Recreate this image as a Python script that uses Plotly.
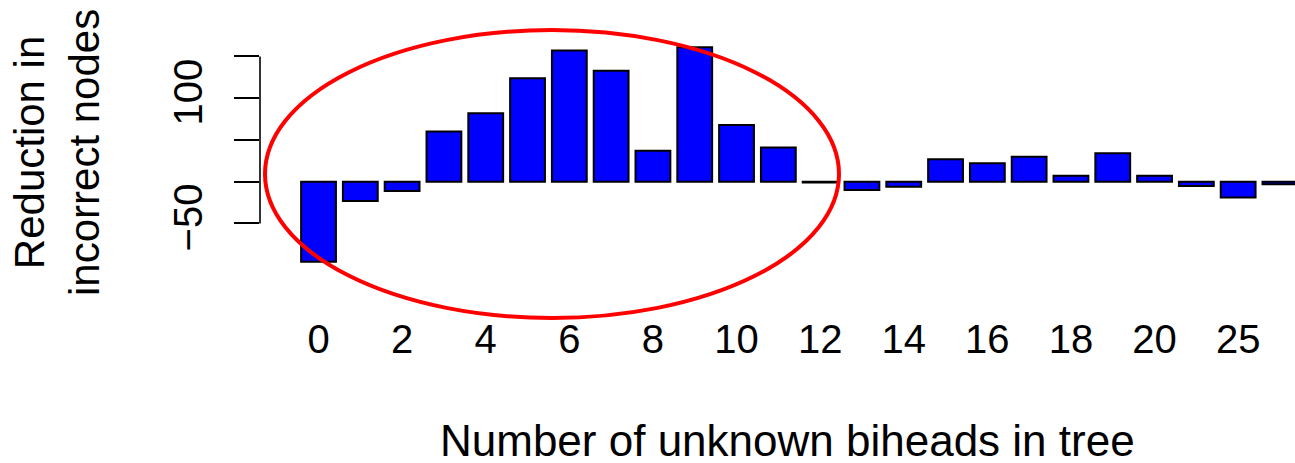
import plotly.graph_objects as go

# Data
categories = ["0", "1", "2", "3", "4", "5", "6", "7", "8", "9", "10", "11", "12",
              "13", "14", "15", "16", "17", "18", "19", "20", "22", "25", "30"]
reduction = [-96, -23, -11, 60, 82, 124, 157, 133, 37, 161, 68, 41, -1,
             -10, -6, 27, 22, 30, 7, 34, 7, -5, -19, -3]
x_tick_labels = ["0", "2", "4", "6", "8", "10", "12", "14", "16", "18", "20", "25"]
y_tick_values = [-50, 0, 50, 100, 150]
y_tick_text = ["\u221250", "", "", "100", ""]

W, H = 1295, 463
ML, MR, MT, MB = 260, 0, 0, 163
PW, PH = W - ML - MR, H - MT - MB

def px_x(p):
    return (p - ML) / PW

def px_y(p):
    return (MT + PH - p) / PH

FONT = "Liberation Sans, Arial, Helvetica, sans-serif"

fig = go.Figure()
fig.add_trace(go.Bar(
    x=categories, y=reduction,
    marker=dict(color="#0000FF", line=dict(color="black", width=2)),
    showlegend=False,
))

fig.update_layout(
    width=W, height=H,
    margin=dict(l=ML, r=MR, t=MT, b=MB, pad=0),
    paper_bgcolor="white", plot_bgcolor="white",
    bargap=0.167,
    font=dict(family=FONT, color="black"),
    xaxis=dict(
        type="category",
        range=[-1.40, 23.36],
        tickmode="array", tickvals=x_tick_labels, ticktext=x_tick_labels,
        showline=False, showgrid=False, zeroline=False, ticks="",
        tickfont=dict(size=40, family=FONT, color="black"),
        ticklabelstandoff=12,
    ),
    yaxis=dict(
        range=[(181.7 - 300) / 0.835, 181.7 / 0.835],
        tickmode="array", tickvals=y_tick_values, ticktext=y_tick_text,
        ticks="outside", ticklen=25, tickwidth=1.6, tickcolor="black",
        showline=False, showgrid=False, zeroline=False,
        tickangle=-90,
        tickfont=dict(size=40, family=FONT, color="black"),
        ticklabelstandoff=16,
    ),
)

# R-style axis line spanning only the tick range
fig.add_shape(type="line", xref="paper", yref="y",
              x0=0, x1=0, y0=y_tick_values[0], y1=y_tick_values[-1],
              line=dict(color="black", width=1.6))

# Red ellipse highlight
fig.add_shape(type="circle", xref="paper", yref="paper",
              x0=px_x(265), x1=px_x(839), y0=px_y(318), y1=px_y(30),
              line=dict(color="#FF0000", width=4), layer="above")

# Axis titles
fig.add_annotation(text="Number of unknown biheads in tree",
                   xref="paper", yref="paper", x=px_x(787), y=px_y(440),
                   xanchor="center", yanchor="middle", showarrow=False,
                   font=dict(size=44, family=FONT, color="black"))
fig.add_annotation(text="Reduction in<br>incorrect nodes",
                   xref="paper", yref="paper", x=px_x(57), y=px_y(153),
                   xanchor="center", yanchor="middle", showarrow=False,
                   textangle=-90,
                   font=dict(size=42, family=FONT, color="black"))

fig.write_html("out.html",
               config={"displayModeBar": False},
               post_script="document.body.style.margin='0px';document.body.style.overflow='hidden';")
